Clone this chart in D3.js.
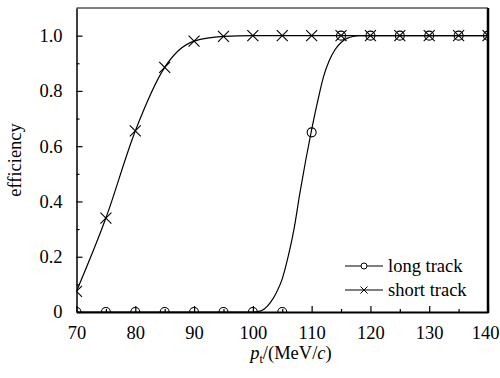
<!DOCTYPE html>
<html>
<head>
<meta charset="utf-8">
<script src="https://cdn.jsdelivr.net/npm/d3@7"></script>
<style>
  body { margin: 0; background: #fff; }
  svg { display: block; }
</style>
</head>
<body>
<svg id="chart" width="500" height="378"></svg>
<script>
// measured points
const ptValues = [70, 75, 80, 85, 90, 95, 100, 105, 110, 115, 120, 125, 130, 135, 140];
const longTrack = [0, 0, 0, 0, 0, 0, 0, 0, 0.65, 1, 1, 1, 1, 1, 1];
const shortTrack = [0.075, 0.34, 0.655, 0.885, 0.98, 0.997, 1, 1, 1, 1, 1, 1, 1, 1, 1];

// fitted curves
const longFitX = [70, 100, 101, 102, 103, 104, 105, 106, 107, 108, 109, 110, 111, 112, 113, 114, 115, 116, 117, 118, 120, 140];
const longFitY = [0, 0, 0.002, 0.012, 0.035, 0.07, 0.12, 0.2, 0.3, 0.43, 0.55, 0.66, 0.76, 0.85, 0.91, 0.95, 0.975, 0.99, 0.997, 1, 1, 1];
const shortFitX = [70, 75, 80, 85, 90, 95, 100, 140];
const shortFitY = [0.075, 0.34, 0.655, 0.885, 0.98, 0.997, 1, 1];

const xTicks = [70, 80, 90, 100, 110, 120, 130, 140];
const xMinor = [75, 85, 95, 105, 115, 125, 135];
const yTicks = [0, 0.2, 0.4, 0.6, 0.8, 1.0];
const yMinor = [0.1, 0.3, 0.5, 0.7, 0.9];

const width = 500, height = 378;
const margin = { top: 8, right: 12, bottom: 66, left: 76.5 };
const serif = "'Liberation Serif', 'DejaVu Serif', serif";

const svg = d3.select("#chart");

const x = d3.scaleLinear().domain([70, 140]).range([margin.left, width - margin.right]);
const y = d3.scaleLinear().domain([0, 1.1]).range([height - margin.bottom, margin.top]);

svg.append("defs").append("clipPath").attr("id", "plot")
    .append("rect")
    .attr("x", margin.left).attr("y", margin.top)
    .attr("width", x.range()[1] - margin.left)
    .attr("height", y.range()[0] - margin.top);

const plot = svg.append("g").attr("clip-path", "url(#plot)");

const line = d3.line().x(d => x(d[0])).y(d => y(d[1])).curve(d3.curveMonotoneX);

plot.append("path")
    .datum(d3.zip(longFitX, longFitY))
    .attr("d", line)
    .attr("fill", "none").attr("stroke", "#000").attr("stroke-width", 1.2);

plot.append("path")
    .datum(d3.zip(shortFitX, shortFitY))
    .attr("d", line)
    .attr("fill", "none").attr("stroke", "#000").attr("stroke-width", 1.2);

const crossPath = s => `M${-s},${-s}L${s},${s}M${-s},${s}L${s},${-s}`;

plot.selectAll(".short")
    .data(d3.zip(ptValues, shortTrack))
    .join("path")
    .attr("class", "short")
    .attr("transform", d => `translate(${x(d[0])},${y(d[1])})`)
    .attr("d", crossPath(5.5))
    .attr("stroke", "#000").attr("stroke-width", 1.1).attr("fill", "none");

plot.selectAll(".long")
    .data(d3.zip(ptValues, longTrack))
    .join("circle")
    .attr("class", "long")
    .attr("cx", d => x(d[0]))
    .attr("cy", d => y(d[1]))
    .attr("r", 4.5)
    .attr("fill", "none").attr("stroke", "#000").attr("stroke-width", 1.1);

// axes
const fontSize = 18.5;
const xAxis = svg.append("g")
    .attr("transform", `translate(0,${y(0)})`)
    .call(d3.axisBottom(x).tickValues(xTicks).tickSize(-6).tickPadding(14).tickSizeOuter(0));
svg.append("g")
    .attr("transform", `translate(0,${y(0)})`)
    .call(d3.axisBottom(x).tickValues(xMinor).tickSize(-3).tickFormat("").tickSizeOuter(0))
    .select(".domain").remove();

const yAxis = svg.append("g")
    .attr("transform", `translate(${margin.left},0)`)
    .call(d3.axisLeft(y).tickValues(yTicks).tickSize(-6).tickPadding(14).tickSizeOuter(0)
        .tickFormat(d => d === 0 ? "0" : d.toFixed(1)));
svg.append("g")
    .attr("transform", `translate(${margin.left},0)`)
    .call(d3.axisLeft(y).tickValues(yMinor).tickSize(-3).tickFormat("").tickSizeOuter(0))
    .select(".domain").remove();

svg.selectAll(".tick line").attr("stroke", "#000").attr("stroke-width", 1.2);
svg.selectAll(".tick text")
    .style("font-family", serif)
    .style("font-size", fontSize + "px")
    .attr("fill", "#000");
// last x label sits a little inside the frame
xAxis.selectAll(".tick text").filter(d => d === 140).attr("dx", -3);
xAxis.select(".domain").attr("stroke", "#000").attr("stroke-width", 2);
yAxis.select(".domain").attr("stroke", "#000").attr("stroke-width", 1.5);

// top and right frame
svg.append("line")
    .attr("x1", margin.left).attr("x2", x(140))
    .attr("y1", margin.top).attr("y2", margin.top)
    .attr("stroke", "#000").attr("stroke-width", 1);
svg.append("line")
    .attr("x1", x(140)).attr("x2", x(140))
    .attr("y1", margin.top).attr("y2", y(0) + 1)
    .attr("stroke", "#000").attr("stroke-width", 2.5);

// axis titles
svg.append("text")
    .attr("transform", `translate(21,${(margin.top + y(0)) / 2}) rotate(-90)`)
    .attr("text-anchor", "middle")
    .style("font-family", serif)
    .style("font-size", fontSize + "px")
    .text("efficiency");

const xt = svg.append("text")
    .attr("x", 291)
    .attr("y", 359)
    .attr("text-anchor", "middle")
    .style("font-family", serif)
    .style("font-size", fontSize + "px");
xt.append("tspan").attr("font-style", "italic").text("p");
xt.append("tspan").style("font-size", "12px").attr("dy", 4).text("t");
xt.append("tspan").attr("dy", -4).text("/(MeV/");
xt.append("tspan").attr("font-style", "italic").text("c");
xt.append("tspan").text(")");

// legend
const legend = [
    { label: "long track", y: 266, mark: "circle" },
    { label: "short track", y: 290, mark: "cross" }
];
const lg = svg.append("g");
legend.forEach(d => {
    lg.append("line")
        .attr("x1", 345).attr("x2", 383)
        .attr("y1", d.y).attr("y2", d.y)
        .attr("stroke", "#000").attr("stroke-width", 1);
    if (d.mark === "circle") {
        lg.append("circle").attr("cx", 364).attr("cy", d.y).attr("r", 3)
            .attr("fill", "#fff").attr("stroke", "#000");
    } else {
        lg.append("path").attr("transform", `translate(364,${d.y})`)
            .attr("d", crossPath(3.5)).attr("stroke", "#000").attr("fill", "none");
    }
    lg.append("text")
        .attr("x", 388).attr("y", d.y + 6)
        .style("font-family", serif)
        .style("font-size", fontSize + "px")
        .text(d.label);
});
</script>
</body>
</html>
